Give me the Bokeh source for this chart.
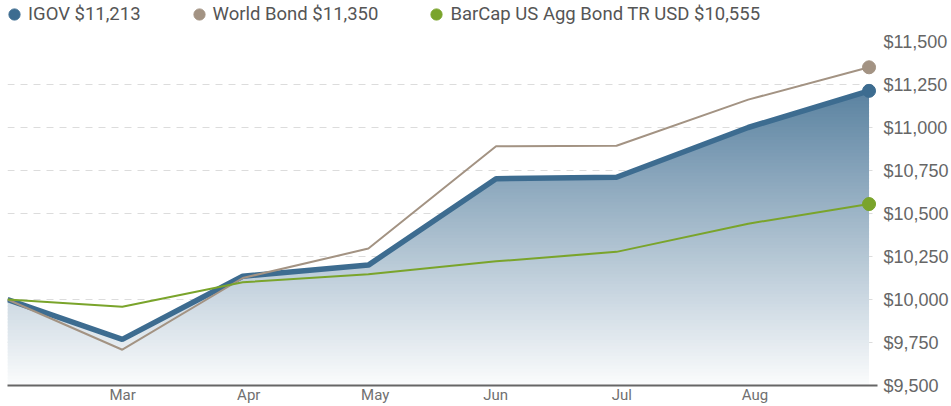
import numpy as np
from bokeh.plotting import figure
from bokeh.layouts import column
from bokeh.models import Range1d, FixedTicker, NumeralTickFormatter, Legend, LegendItem
from bokeh.embed import file_html
from bokeh.resources import INLINE

# ---- data ----
days = [0, 28.5, 58.4, 89.6, 121.3, 151.2, 183.9, 213.9]
igov = [10000, 9768, 10135, 10200, 10702, 10711, 11000, 11213]
world_bond = [10000, 9708, 10125, 10296, 10891, 10894, 11162, 11350]
barcap = [10000, 9958, 10100, 10147, 10222, 10277, 10441, 10555]
month_ticks = [28.6, 59.9, 91.3, 121.2, 152.5, 185.6]
month_labels = ["Mar", "Apr", "May", "Jun", "Jul", "Aug"]
value_ticks = [9500, 9750, 10000, 10250, 10500, 10750, 11000, 11250, 11500]
names = ["IGOV", "World Bond", "BarCap US Agg Bond TR USD"]

C_IGOV = "#3d6c90"
C_WORLD = "#a39383"
C_BARCAP = "#7aa42b"

p = figure(width=951, height=378, output_backend="svg", toolbar_location=None,
           x_range=Range1d(0, 216), y_range=Range1d(value_ticks[0], value_ticks[-1]),
           y_axis_location="right", min_border_left=7, min_border_right=72,
           min_border_top=13, min_border_bottom=20)
p.outline_line_color = None
p.background_fill_color = "white"
p.border_fill_color = "white"

# gradient area under IGOV
xd = np.union1d(np.linspace(days[0], days[-1], 900), np.array(days))
f = np.interp(xd, days, igov)
levels = np.linspace(value_ticks[0], max(igov), 91)
base = np.array([61, 108, 144])
for k in range(len(levels) - 1):
    lo, hi = levels[k], levels[k + 1]
    t = ((lo + hi) / 2 - levels[0]) / (levels[-1] - levels[0])
    a = 0.02 + 0.83 * t
    col = np.round(255 * (1 - a) + base * a).astype(int)
    hexc = "#%02x%02x%02x" % tuple(col)
    hi_ext = hi + (hi - lo) * 0.6
    p.varea(x=xd, y1=np.minimum(f, lo), y2=np.minimum(f, hi_ext),
            fill_color=hexc, fill_alpha=1.0)

p.line(days, igov, line_color=C_IGOV, line_width=5.5)
p.line(days, world_bond, line_color=C_WORLD, line_width=2)
p.line(days, barcap, line_color=C_BARCAP, line_width=2)

p.scatter([days[-1]], [igov[-1]], size=13, color=C_IGOV)
p.scatter([days[-1]], [world_bond[-1]], size=13, color=C_WORLD)
p.scatter([days[-1]], [barcap[-1]], size=13, color=C_BARCAP)

# axes
p.xgrid.visible = False
p.ygrid.ticker = FixedTicker(ticks=value_ticks)
p.ygrid.grid_line_color = "#dcdcdc"
p.ygrid.grid_line_dash = "7 6"
p.ygrid.grid_line_width = 1

ya = p.yaxis[0]
ya.ticker = FixedTicker(ticks=value_ticks)
ya.formatter = NumeralTickFormatter(format="$0,0")
ya.axis_line_color = None
ya.major_tick_line_color = None
ya.minor_tick_line_color = None
ya.major_tick_out = 0
ya.major_tick_in = 0
ya.minor_tick_out = 0
ya.major_label_standoff = 6
ya.major_label_text_font = "Liberation Sans"
ya.major_label_text_font_size = "18px"
ya.major_label_text_color = "#666666"

xa = p.xaxis[0]
xa.ticker = FixedTicker(ticks=month_ticks)
xa.major_label_overrides = {t: l for t, l in zip(month_ticks, month_labels)}
xa.axis_line_color = "#666666"
xa.axis_line_width = 2
xa.major_tick_line_color = None
xa.minor_tick_line_color = None
xa.major_tick_out = 0
xa.major_tick_in = 0
xa.minor_tick_out = 0
xa.minor_tick_in = 0
xa.major_label_standoff = 0
xa.major_label_text_font = "Roboto"
xa.major_label_text_font_size = "15px"
xa.major_label_text_color = "#707070"

# legend strip above the chart
lg = figure(width=951, height=28, output_backend="svg", toolbar_location=None,
            x_range=Range1d(0, 1), y_range=Range1d(0, 1),
            x_axis_type=None, y_axis_type=None,
            min_border_left=0, min_border_right=0, min_border_top=0, min_border_bottom=0)
lg.outline_line_color = None
lg.xgrid.visible = False
lg.ygrid.visible = False
nan = np.array([np.nan])
l1 = lg.scatter(x=nan, y=nan, color=C_IGOV)
l2 = lg.scatter(x=nan, y=nan, color=C_WORLD)
l3 = lg.scatter(x=nan, y=nan, color=C_BARCAP)

labels = [f"{names[0]} ${igov[-1]:,.0f}", f"{names[1]} ${world_bond[-1]:,.0f}",
          f"{names[2]} ${barcap[-1]:,.0f}"]
legend = Legend(items=[LegendItem(label=labels[0], renderers=[l1]),
                       LegendItem(label=labels[1], renderers=[l2]),
                       LegendItem(label=labels[2], renderers=[l3])],
                orientation="horizontal", location=(-7, 0),
                glyph_width=28, glyph_height=28, label_standoff=0, spacing=44,
                padding=0, margin=0, border_line_color=None, background_fill_alpha=0,
                label_text_font="Roboto", label_text_font_size="18.5px",
                label_text_color="#555555")
lg.add_layout(legend, "center")

layout = column(lg, p, spacing=0)
open("out.html", "w").write(file_html(layout, INLINE))
